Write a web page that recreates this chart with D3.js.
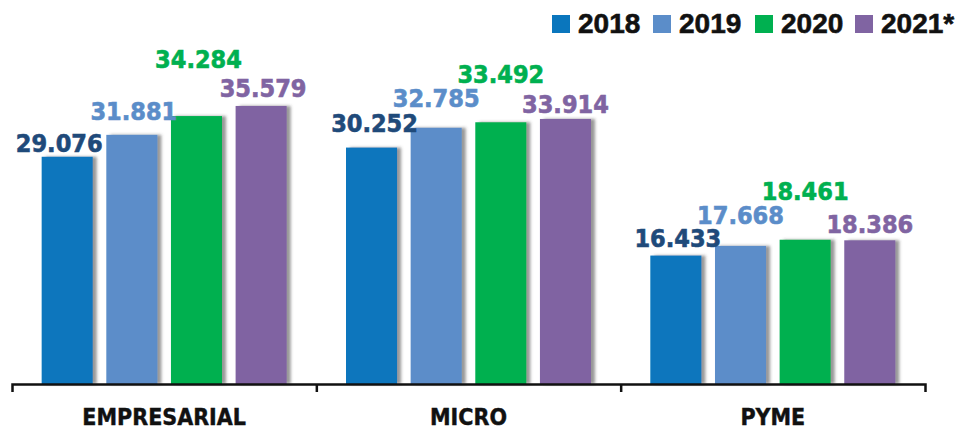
<!DOCTYPE html>
<html>
<head>
<meta charset="utf-8">
<title>Empresas por segmento</title>
<style type="text/css">
	html, body { margin: 0; padding: 0; background: #fff; }
	svg { display: block; }
	.val { font-family: "DejaVu Sans Condensed", "DejaVu Sans", sans-serif; font-weight: bold; font-size: 25px; text-anchor: middle; stroke-width: 0.6; }
	.cat { font-family: "DejaVu Sans Condensed", "DejaVu Sans", sans-serif; font-weight: bold; font-size: 23px; text-anchor: middle; fill: #111; stroke: #111; stroke-width: 0.4; }
	.leg { font-family: "Liberation Sans", Arial, sans-serif; font-weight: bold; font-size: 28px; fill: #111; stroke: #111; stroke-width: 0.6; }
	.axis path, .axis line { stroke: #111; stroke-width: 2.5; }
</style>
</head>
<body>
<div id="chart"></div>
<script src="https://cdn.jsdelivr.net/npm/d3@7"></script>
<script type="text/javascript">
	// data
	var categories = ["EMPRESARIAL", "MICRO", "PYME"];
	var years = ["2018", "2019", "2020", "2021*"];
	var v2018 = [29.076, 30.252, 16.433];
	var v2019 = [31.881, 32.785, 17.668];
	var v2020 = [34.284, 33.492, 18.461];
	var v2021 = [35.579, 33.914, 18.386];

	var barColors = ["#0a76bd", "#5b8dc9", "#00b050", "#8064a2"];
	var labelColors = ["#1f4a7a", "#5b8dc9", "#00b050", "#8064a2"];
	// how far above the bar top each value label sits (per category, per year)
	var labelGap = [[5, 15, 48, 9], [16, 21, 39, 6], [9, 22, 40, 7]];
	var labelShift = [[-8, 2, 2, 2], [3, 0, 0, 0], [2, 0, 0, 0]];

	var series = [v2018, v2019, v2020, v2021];
	var fmt = d3.format(".3f");

	var width = 964, height = 429;
	var svg = d3.select("#chart").append("svg")
		.attr("width", width)
		.attr("height", height);

	var defs = svg.append("defs");
	var f = defs.append("filter").attr("id", "shadow")
		.attr("x", "-10%").attr("y", "-5%").attr("width", "140%").attr("height", "110%");
	f.append("feDropShadow")
		.attr("dx", 4).attr("dy", 0)
		.attr("stdDeviation", 1.6)
		.attr("flood-color", "#444")
		.attr("flood-opacity", 0.55);

	var x0 = d3.scaleBand().domain(categories).range([12, 925]);
	var bw = x0.bandwidth();
	var x1 = d3.scaleBand().domain(years)
		.range([bw / 2 - 122.5, bw / 2 + 122.5])
		.paddingInner(0.21);
	var y = d3.scaleLinear().domain([0, 40]).range([384, 384 - 40 * 7.815]);

	var groups = svg.selectAll(".grp")
		.data(categories)
		.enter()
		.append("g")
		.attr("class", "grp")
		.attr("transform", function(d) { return "translate(" + x0(d) + ",0)"; });

	groups.selectAll("rect")
		.data(function(d, i) {
			return years.map(function(yr, j) { return { year: yr, j: j, v: series[j][i] }; });
		})
		.enter()
		.append("rect")
		.attr("x", function(d) { return x1(d.year); })
		.attr("y", function(d) { return y(d.v); })
		.attr("width", x1.bandwidth())
		.attr("height", function(d) { return y(0) - y(d.v); })
		.attr("fill", function(d) { return barColors[d.j]; })
		.attr("filter", "url(#shadow)");

	groups.selectAll("text.val")
		.data(function(d, i) {
			return years.map(function(yr, j) { return { year: yr, i: i, j: j, v: series[j][i] }; });
		})
		.enter()
		.append("text")
		.attr("class", "val")
		.attr("x", function(d) { return x1(d.year) + x1.bandwidth() / 2 + labelShift[d.i][d.j]; })
		.attr("y", function(d) { return y(d.v) - labelGap[d.i][d.j]; })
		.attr("fill", function(d) { return labelColors[d.j]; })
		.attr("stroke", function(d) { return labelColors[d.j]; })
		.text(function(d) { return fmt(d.v); });

	// axis with separators between categories
	var sep = d3.scaleLinear().domain([0, categories.length]).range([12, 925]);
	var axis = svg.append("g")
		.attr("class", "axis")
		.attr("transform", "translate(0,384)")
		.call(d3.axisBottom(sep).tickValues([1, 2]).tickSize(8).tickSizeOuter(8).tickFormat(""));
	axis.select(".domain").attr("fill", "none");

	svg.selectAll("text.cat")
		.data(categories)
		.enter()
		.append("text")
		.attr("class", "cat")
		.attr("x", function(d) { return x0(d) + bw / 2; })
		.attr("y", 425)
		.text(function(d) { return d; });

	// legend
	var leg = svg.selectAll(".legitem")
		.data(years)
		.enter()
		.append("g")
		.attr("class", "legitem")
		.attr("transform", function(d, i) { return "translate(" + [552, 653, 755, 855][i] + ",0)"; });
	leg.append("rect")
		.attr("x", 0).attr("y", 15)
		.attr("width", 18).attr("height", 18)
		.attr("fill", function(d, i) { return barColors[i]; });
	leg.append("text")
		.attr("class", "leg")
		.attr("x", 26).attr("y", 33)
		.text(function(d) { return d; });
</script>
</body>
</html>
